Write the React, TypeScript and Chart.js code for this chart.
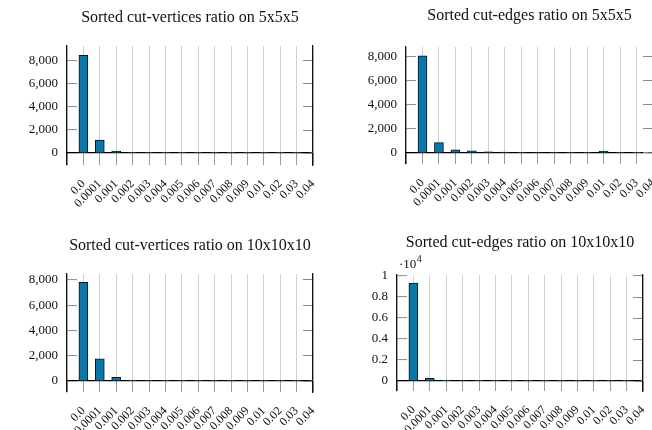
import React, { useEffect, useRef } from 'react';
import { Chart, registerables } from 'chart.js';

Chart.register(...registerables);

const categories = ['0.0', '0.0001', '0.001', '0.002', '0.003', '0.004', '0.005', '0.006', '0.007', '0.008', '0.009', '0.01', '0.02', '0.03', '0.04'];

const cutVertices5 = [8490, 1120, 170, 60, 40, 30, 25, 20, 15, 15, 12, 12, 10, 8, 5];
const cutEdges5 = [8100, 860, 260, 180, 90, 70, 50, 40, 30, 30, 30, 160, 50, 20, 10];
const cutVertices10 = [7820, 1750, 290, 80, 30, 25, 20, 20, 15, 15, 12, 12, 10, 8, 5];
const cutEdges10 = [9330, 250, 90, 50, 30, 25, 20, 20, 15, 15, 12, 12, 10, 8, 5];

const yTicksCount = [0, 2000, 4000, 6000, 8000];
const yTicksScaled = [0, 2000, 4000, 6000, 8000, 10000];

const titles = [
  'Sorted cut-vertices ratio on 5x5x5',
  'Sorted cut-edges ratio on 5x5x5',
  'Sorted cut-vertices ratio on 10x10x10',
  'Sorted cut-edges ratio on 10x10x10',
];

const FONT = "'Liberation Serif', 'Times New Roman', serif";
const BAR = '#0b76a8';
const TEXT = '#111';

type Spec = {
  title: string;
  values: number[];
  yMin: number;
  yMax: number;
  yTicks: number[];
  scaled: boolean;
  x: number;
  y: number;
  w: number;
  h: number;
  area: { left: number; right: number; top: number; bottom: number };
  titleCenter: number;
};

const specs: Spec[] = [
  { title: titles[0], values: cutVertices5, yMin: -1040, yMax: 9300, yTicks: yTicksCount, scaled: false,
    x: 0, y: 0, w: 326, h: 215, area: { left: 67, right: 313, top: 46, bottom: 165 }, titleCenter: 18 },
  { title: titles[1], values: cutEdges5, yMin: -917, yMax: 8830, yTicks: yTicksCount, scaled: false,
    x: 326, y: 0, w: 340, h: 215, area: { left: 80, right: 327, top: 47, bottom: 164 }, titleCenter: 15.5 },
  { title: titles[2], values: cutVertices10, yMin: -870, yMax: 8475, yTicks: yTicksCount, scaled: false,
    x: 0, y: 215, w: 326, h: 215, area: { left: 67, right: 313, top: 59, bottom: 177 }, titleCenter: 31 },
  { title: titles[3], values: cutEdges10, yMin: -950, yMax: 10095, yTicks: yTicksScaled, scaled: true,
    x: 326, y: 215, w: 326, h: 215, area: { left: 71, right: 317, top: 60, bottom: 176 }, titleCenter: 28 },
];

function Panel({ spec }: { spec: Spec }) {
  const ref = useRef<HTMLCanvasElement>(null);
  useEffect(() => {
    const s = spec;
    const labels = ['', ...categories];
    const data = [null, ...s.values];
    const plotH = s.area.bottom - s.area.top;
    const tickLen = Math.round(((0 - s.yMin) / (s.yMax - s.yMin)) * plotH);
    const titleLH = 19.2;
    const padTop = s.titleCenter - titleLH / 2;
    const padBottom = s.area.top - padTop - titleLH;

    const exponentPlugin = {
      id: 'exponent',
      afterDraw(chart: any) {
        if (!s.scaled) return;
        const { ctx, chartArea } = chart;
        ctx.save();
        ctx.fillStyle = TEXT;
        ctx.textBaseline = 'alphabetic';
        ctx.textAlign = 'left';
        ctx.font = `13px ${FONT}`;
        const x0 = chartArea.left + 2;
        const y0 = chartArea.top - 7;
        ctx.fillText('·10', x0, y0);
        const w = ctx.measureText('·10').width;
        ctx.font = `10px ${FONT}`;
        ctx.fillText('4', x0 + w + 0.5, y0 - 6);
        ctx.restore();
      },
    };

    const chart = new Chart(ref.current as HTMLCanvasElement, {
      type: 'bar',
      data: {
        labels,
        datasets: [
          {
            data: data as any,
            backgroundColor: BAR,
            borderColor: '#111',
            borderWidth: 1,
            barThickness: 9,
            borderSkipped: 'start',
          },
        ],
      },
      options: {
        animation: false,
        responsive: false,
        layout: { padding: 0 },
        plugins: {
          legend: { display: false },
          tooltip: { enabled: false },
          title: {
            display: true,
            fullSize: false,
            text: s.title,
            color: TEXT,
            font: { family: FONT, size: 16, weight: 'normal', lineHeight: 1.2 },
            padding: { top: padTop, bottom: padBottom },
          },
        },
        scales: {
          x: {
            type: 'category',
            offset: false,
            grid: {
              offset: false,
              color: '#d0d0d0',
              lineWidth: 1,
              drawTicks: true,
              tickLength: -tickLen,
              tickColor: '#9a9a9a',
            },
            border: { display: false },
            ticks: {
              autoSkip: false,
              minRotation: 45,
              maxRotation: 45,
              padding: tickLen + 12,
              color: TEXT,
              font: { family: FONT, size: 12 },
            },
            afterFit: (sc: any) => {
              sc.height = s.h - s.area.bottom;
              sc.paddingLeft = 0;
              sc.paddingRight = 0;
            },
          },
          y: {
            type: 'linear',
            position: 'left',
            min: s.yMin,
            max: s.yMax,
            z: 1,
            afterBuildTicks: (sc: any) => {
              sc.ticks = s.yTicks.map((v) => ({ value: v }));
            },
            afterFit: (sc: any) => {
              sc.width = s.area.left;
              sc.paddingTop = 0;
              sc.paddingBottom = 0;
            },
            grid: {
              drawOnChartArea: true,
              color: (c: any) => (c.tick && c.tick.value === 0 ? '#000' : 'rgba(0,0,0,0)'),
              lineWidth: 1.2,
              drawTicks: true,
              tickLength: -10,
              tickColor: (c: any) => (c.tick && c.tick.value === 0 ? '#000' : '#8a8a8a'),
              tickWidth: 1,
            },
            border: { display: true, color: '#111', width: 1.2 },
            ticks: {
              padding: 19,
              color: TEXT,
              font: { family: FONT, size: 13 },
              callback: (v: any) =>
                s.scaled ? String(Number((v / 10000).toFixed(1))) : Number(v).toLocaleString('en-US'),
            },
          },
          y2: {
            type: 'linear',
            position: 'right',
            min: s.yMin,
            max: s.yMax,
            z: 1,
            afterBuildTicks: (sc: any) => {
              sc.ticks = s.yTicks.map((v) => ({ value: v }));
            },
            afterFit: (sc: any) => {
              sc.width = s.w - s.area.right;
              sc.paddingTop = 0;
              sc.paddingBottom = 0;
            },
            grid: {
              drawOnChartArea: false,
              drawTicks: true,
              tickLength: -10,
              tickColor: '#8a8a8a',
              tickWidth: 1,
            },
            border: { display: true, color: '#111', width: 1.2 },
            ticks: { display: false },
          },
        },
      },
      plugins: [exponentPlugin],
    } as any);
    return () => chart.destroy();
  }, [spec]);

  return (
    <canvas
      ref={ref}
      width={spec.w}
      height={spec.h}
      style={{ position: 'absolute', left: spec.x, top: spec.y, width: spec.w, height: spec.h }}
    />
  );
}

export default function App() {
  return (
    <div
      style={{
        position: 'fixed',
        left: 0,
        top: 0,
        width: 652,
        height: 430,
        overflow: 'hidden',
        background: '#fff',
      }}
    >
      {specs.map((s, i) => (
        <Panel key={i} spec={s} />
      ))}
    </div>
  );
}
